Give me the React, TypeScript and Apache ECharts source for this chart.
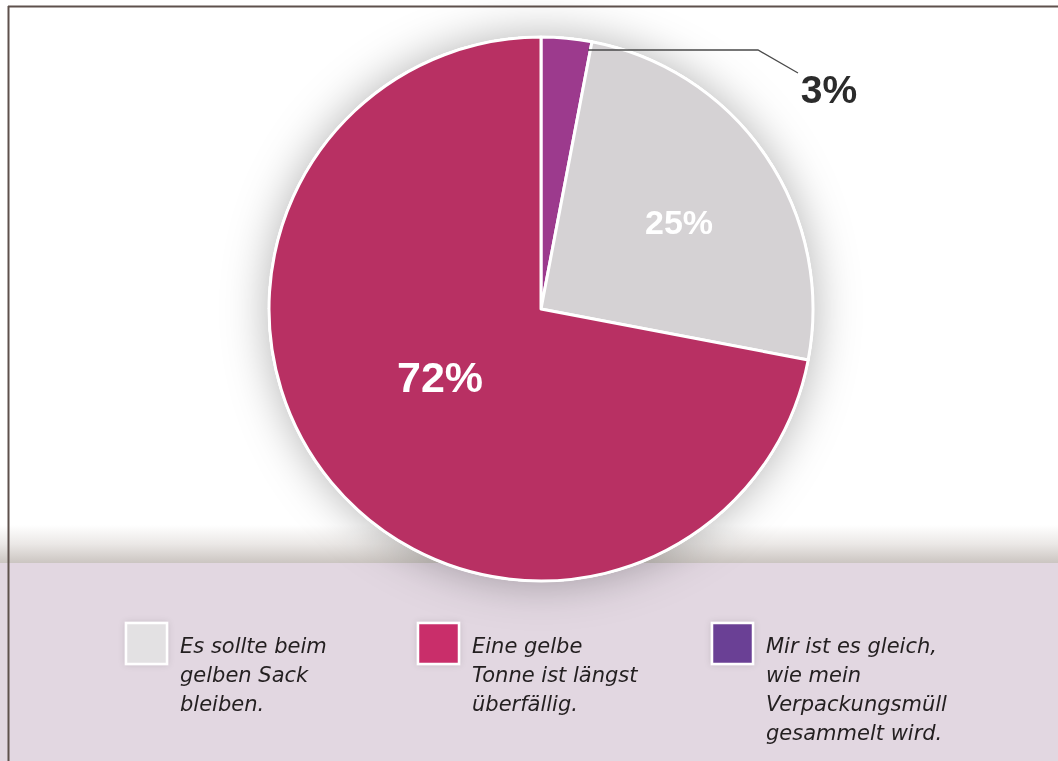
import React, { useEffect, useRef } from "react";
import * as echarts from "echarts";

// ---- data ----
const sliceNames = [
  "Mir ist es gleich, wie mein Verpackungsmüll gesammelt wird.",
  "Es sollte beim gelben Sack bleiben.",
  "Eine gelbe Tonne ist längst überfällig.",
];
const sliceValues = [3, 25, 72];
const sliceLabels = ["3%", "25%", "72%"];

const legendLines = [
  ["Es sollte beim", "gelben Sack", "bleiben."],
  ["Eine gelbe", "Tonne ist längst", "überfällig."],
  ["Mir ist es gleich,", "wie mein", "Verpackungsmüll", "gesammelt wird."],
];

// ---- styles ----
const sliceColors = ["#9c3a8d", "#d5d2d4", "#b83063"];
const labelColors = ["#2b2b2b", "#ffffff", "#ffffff"];
const labelSizes = [39, 34, 43];
const legendColors = ["#e3e1e3", "#c92e6b", "#6b3f95"];
const legendX = [125, 417, 711];
const labelPos: [number, number][] = [
  [829, 89],
  [679, 222],
  [440, 377],
];

export default function App() {
  const ref = useRef<HTMLDivElement>(null);
  useEffect(() => {
    if (!ref.current) return;
    const chart = echarts.init(ref.current, undefined, { renderer: "svg" });

    const graphics: any[] = [
      { type: "rect", z: -10, shape: { x: 0, y: 0, width: 1058, height: 761 }, style: { fill: "#ffffff" } },
      {
        type: "rect",
        z: -9,
        shape: { x: 0, y: 525, width: 1058, height: 38 },
        style: {
          fill: new echarts.graphic.LinearGradient(0, 0, 0, 1, [
            { offset: 0, color: "#ffffff" },
            { offset: 0.5, color: "#ebe8e6" },
            { offset: 1, color: "#cbc5c1" },
          ]),
        },
      },
      { type: "rect", z: -9, shape: { x: 0, y: 563, width: 1058, height: 198 }, style: { fill: "#e2d7e1" } },
      { type: "line", z: -8, shape: { x1: 8, y1: 6.5, x2: 1058, y2: 6.5 }, style: { stroke: "#5e514c", lineWidth: 2 } },
      { type: "line", z: -8, shape: { x1: 8.5, y1: 6, x2: 8.5, y2: 761 }, style: { stroke: "#5e514c", lineWidth: 2 } },
      {
        type: "polyline",
        z: 20,
        shape: { points: [[588, 50], [758, 50], [798, 73]] },
        style: { stroke: "#4a4a4a", lineWidth: 1.3, fill: "none" },
      },
    ];

    legendLines.forEach((lines, i) => {
      graphics.push({
        type: "rect",
        z: 10,
        shape: { x: legendX[i] + 1, y: 623, width: 41, height: 41 },
        style: {
          fill: legendColors[i],
          stroke: "#ffffff",
          lineWidth: 2.5,
          shadowBlur: 6,
          shadowColor: "rgba(0,0,0,0.12)",
        },
      });
      graphics.push({
        type: "text",
        z: 10,
        x: legendX[i] + 55,
        y: 631,
        style: {
          text: lines.join("\n"),
          fill: "#231f20",
          fontFamily: "DejaVu Sans",
          fontStyle: "italic",
          fontSize: 21,
          lineHeight: 29,
          verticalAlign: "top",
          align: "left",
        },
      });
    });

    chart.setOption({
      animation: false,
      graphic: { elements: graphics },
      series: [
        {
          type: "pie",
          z: 1,
          silent: true,
          center: [541, 309],
          radius: [0, 273],
          label: { show: false },
          labelLine: { show: false },
          emphasis: { disabled: true },
          itemStyle: {
            color: "#ffffff",
            shadowBlur: 45,
            shadowColor: "rgba(0,0,0,0.3)",
          },
          data: [{ value: 1, name: "" }],
        },
        {
          type: "pie",
          z: 3,
          center: [541, 309],
          radius: [0, 272],
          startAngle: 90,
          clockwise: true,
          avoidLabelOverlap: false,
          emphasis: { disabled: true },
          itemStyle: { borderColor: "#ffffff", borderWidth: 3 },
          labelLine: { show: false },
          data: sliceValues.map((v, i) => ({
            value: v,
            name: sliceNames[i],
            itemStyle: { color: sliceColors[i] },
            label: {
              show: true,
              position: i === 0 ? "outside" : "inside",
              formatter: sliceLabels[i],
              color: labelColors[i],
              fontFamily: "Liberation Sans",
              fontWeight: "bold",
              fontSize: labelSizes[i],
            },
            labelLine: { show: false },
          })),
          labelLayout: (params: any) => {
            const i = params.dataIndex;
            return {
              x: labelPos[i][0],
              y: labelPos[i][1],
              align: "center",
              verticalAlign: "middle",
            };
          },
        },
      ],
    });
    return () => chart.dispose();
  }, []);
  return (
    <div
      ref={ref}
      style={{ position: "fixed", left: 0, top: 0, width: 1058, height: 761 }}
    />
  );
}
